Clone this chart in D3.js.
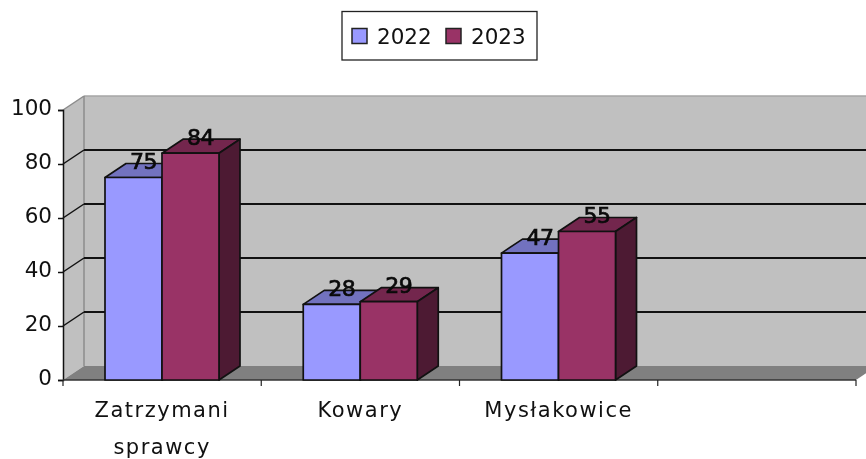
<!DOCTYPE html>
<html><head><meta charset="utf-8">
<script src="https://cdn.jsdelivr.net/npm/d3@7"></script>
<style>
html,body{margin:0;padding:0;background:#fff;overflow:hidden}
svg{display:block;filter:blur(0.6px)}
text{font-family:"DejaVu Sans",sans-serif;fill:#111}
</style></head><body>
<svg id="c" width="866" height="459"></svg>
<script>
const categories = ["Zatrzymani sprawcy", "Kowary", "Mysłakowice", ""];
const seriesNames = ["2022", "2023"];
const values2022 = [75, 28, 47];
const values2023 = [84, 29, 55];
const colors2022 = {front:"#9999ff", top:"#7272bf", side:"#4c4c80"};
const colors2023 = {front:"#993366", top:"#73264d", side:"#4d1a33"};
const yTicks = [0, 20, 40, 60, 80, 100];

const svg = d3.select("#c");
const dx = 21, dy = -14;
const y = d3.scaleLinear().domain([0, 100]).range([380, 110]);
const x = d3.scaleBand().domain(categories).range([63, 856]);
const inner = d3.scaleBand().domain(seriesNames).range([42, 156]);
const poly = (pts, attrs) => {
  const p = svg.append("polygon").attr("points", pts.map(d => d.join(",")).join(" "));
  Object.entries(attrs).forEach(([k, v]) => p.attr(k, v));
  return p;
};
const x0 = x.range()[0], x1 = x.range()[1];

// walls and floor
poly([[x0, y(0)], [x0 + dx, y(0) + dy], [x0 + dx, y(100) + dy], [x0, y(100)]], {fill:"#c0c0c0"});
svg.append("rect").attr("x", x0 + dx).attr("y", y(100) + dy).attr("width", 866 - x0 - dx).attr("height", y(0) - y(100)).attr("fill", "#c0c0c0");
svg.append("line").attr("x1", x0 + dx).attr("x2", 866).attr("y1", y(100) + dy).attr("y2", y(100) + dy).attr("stroke", "#a6a6a6").attr("stroke-width", 1.5);
svg.append("line").attr("x1", x0 + dx).attr("x2", x0 + dx).attr("y1", y(100) + dy).attr("y2", y(0) + dy).attr("stroke", "#8c8c8c").attr("stroke-width", 1.5);
poly([[x0, y(0)], [x0 + dx, y(0) + dy], [x1 + dx, y(0) + dy], [x1, y(0)]], {fill:"#808080"});

// gridlines
yTicks.filter(t => t > 0).forEach(t => {
  const top = t === 100;
  if (!top) svg.append("line").attr("x1", x0 + dx).attr("x2", 866).attr("y1", y(t) + dy).attr("y2", y(t) + dy).attr("stroke", "#111").attr("stroke-width", 1.8);
  svg.append("line").attr("x1", x0).attr("x2", x0 + dx).attr("y1", y(t)).attr("y2", y(t) + dy).attr("stroke", top ? "#8c8c8c" : "#111").attr("stroke-width", 1.5);
});

// axes
const yAxis = d3.axisLeft(y).tickValues(yTicks).tickSize(5).tickPadding(6);
const gy = svg.append("g").attr("transform", `translate(${x0},0)`).call(yAxis);
gy.selectAll("text").attr("font-size", 21.5).attr("font-family", "DejaVu Sans").attr("fill", "#1a1a1a").attr("dy", "0.2em");
gy.selectAll("path,line").attr("stroke", "#111").attr("stroke-width", 1.5);

const edges = d3.range(categories.length + 1).map(i => x0 + i * x.step());
svg.append("line").attr("x1", x0).attr("x2", x1).attr("y1", y(0)).attr("y2", y(0)).attr("stroke", "#333").attr("stroke-width", 1.5);
svg.selectAll(".xt").data(edges).join("line").attr("x1", d => d).attr("x2", d => d).attr("y1", y(0)).attr("y2", y(0) + 6).attr("stroke", "#222").attr("stroke-width", 1.2);

// bars
const series = [
  {name: seriesNames[0], vals: values2022, c: colors2022},
  {name: seriesNames[1], vals: values2023, c: colors2023}
];
const st = {stroke:"#111", "stroke-width":1.7, "stroke-linejoin":"round"};
categories.slice(0, values2022.length).forEach((cat, i) => {
  series.forEach(s => {
    const l = x(cat) + inner(s.name), r = l + inner.bandwidth(), t = y(s.vals[i]), b = y(0);
    poly([[l, t], [l + dx, t + dy], [r + dx, t + dy], [r, t]], {fill:s.c.top, ...st});
    poly([[r, t], [r + dx, t + dy], [r + dx, b + dy], [r, b]], {fill:s.c.side, ...st});
    poly([[l, t], [r, t], [r, b], [l, b]], {fill:s.c.front, ...st});
  });
});
// value labels
categories.slice(0, values2022.length).forEach((cat, i) => {
  series.forEach(s => {
    const l = x(cat) + inner(s.name), r = l + inner.bandwidth(), t = y(s.vals[i]);
    svg.append("text").attr("x", (l + r) / 2 + dx * 0.5 - 0.5).attr("y", t - 8.5)
      .attr("text-anchor", "middle").attr("font-size", 22).attr("letter-spacing", -0.5)
      .style("fill", "#0a0a0a").attr("stroke", "#0a0a0a").attr("stroke-width", 0.7).text(s.vals[i]);
  });
});

// category labels
categories.filter(c => c).forEach(cat => {
  const t = svg.append("text").attr("text-anchor", "middle").attr("font-size", 21).attr("letter-spacing", 1.5).attr("fill", "#1a1a1a");
  cat.split(" ").forEach((w, j) => t.append("tspan").attr("x", x(cat) + x.step() / 2).attr("y", 417 + j * 37).text(w));
});

// legend
svg.append("rect").attr("x", 342).attr("y", 11.5).attr("width", 195).attr("height", 48.5).attr("fill", "#fff").attr("stroke", "#222").attr("stroke-width", 1.3);
const legX = d3.scaleOrdinal().domain(seriesNames).range([352, 446]);
series.forEach(s => {
  svg.append("rect").attr("x", legX(s.name)).attr("y", 28.5).attr("width", 15).attr("height", 15).attr("fill", s.c.front).attr("stroke", "#222").attr("stroke-width", 1.5);
  svg.append("text").attr("x", legX(s.name) + 25).attr("y", 44).attr("font-size", 21.5).text(s.name);
});
</script>
</body></html>
